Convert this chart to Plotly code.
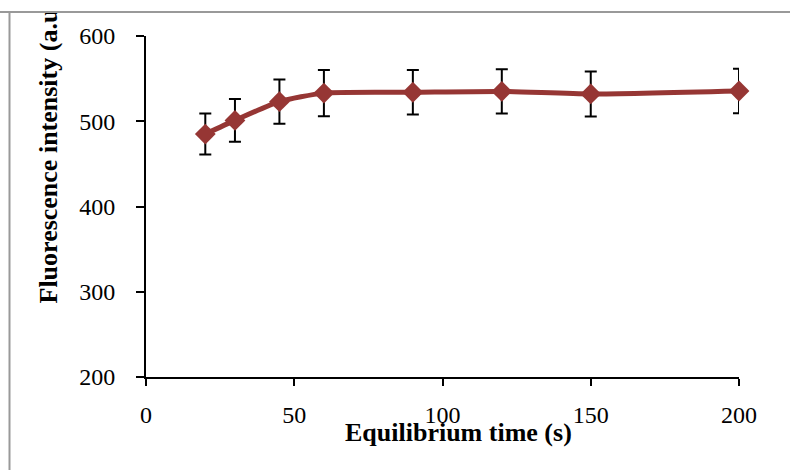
import plotly.graph_objects as go

time_s = [20, 30, 45, 60, 90, 120, 150, 200]
intensity = [485, 501, 523, 533, 534, 535, 532, 535.5]
err = [24, 25, 26, 27, 26, 26, 26.5, 26]
x_ticks = [0, 50, 100, 150, 200]
y_ticks = [200, 300, 400, 500, 600]

W, H = 790, 470
L, R, T, B = 146, 51, 36, 93
pw, ph = W - L - R, H - T - B

def px(x):
    return (x - L) / pw

def py(y):
    return (H - B - y) / ph

FONT = "Liberation Serif, Times New Roman, serif"
RED = "#963634"

fig = go.Figure()
fig.add_trace(go.Scatter(
    x=time_s, y=intensity,
    mode="lines+markers",
    line=dict(color=RED, width=5, shape="spline", smoothing=0.6),
    marker=dict(symbol="diamond", size=16, color=RED),
    error_y=dict(type="data", array=err, visible=True, color="black", thickness=2, width=6),
    cliponaxis=False,
    showlegend=False,
))

fig.update_layout(
    width=W, height=H,
    margin=dict(l=L, r=R, t=T, b=B),
    paper_bgcolor="white", plot_bgcolor="white",
    font=dict(family=FONT, color="black"),
    xaxis=dict(range=[0, 200], tickvals=x_ticks, showgrid=False, zeroline=False,
               showline=True, linecolor="black", linewidth=2,
               ticks="outside", ticklen=7, tickwidth=2, tickcolor="black",
               tickfont=dict(size=24, family=FONT), ticklabelstandoff=8),
    yaxis=dict(range=[200, 600], tickvals=y_ticks, showgrid=False, zeroline=False,
               showline=True, linecolor="black", linewidth=2,
               ticks="outside", ticklen=8, tickwidth=2, tickcolor="black",
               tickfont=dict(size=24, family=FONT), ticklabelstandoff=16),
)

# axis titles
fig.add_annotation(text="<b>Equilibrium time (s)</b>", xref="paper", yref="paper",
                   x=px(458), y=py(432), xanchor="center", yanchor="middle",
                   showarrow=False, font=dict(size=26, family=FONT, color="black"))
fig.add_annotation(text="<b>Fluorescence intensity (a.u.)</b>", xref="paper", yref="paper",
                   x=px(47.5), y=py(306), xanchor="center", yanchor="bottom", textangle=-90,
                   showarrow=False, font=dict(size=26, family=FONT, color="black"))
# top white cover with border line at y=12
fig.add_annotation(text=" ", xref="paper", yref="paper",
                   x=px(395), y=py(0), xanchor="center", yanchor="middle",
                   width=840, height=22, bgcolor="white", bordercolor="#999999",
                   borderwidth=2, borderpad=0, showarrow=False)
# left border line
fig.add_shape(type="line", xref="paper", yref="paper",
              x0=px(9.5), x1=px(9.5), y0=py(12), y1=py(475),
              line=dict(color="#999999", width=2))

fig.write_html("out.html")
